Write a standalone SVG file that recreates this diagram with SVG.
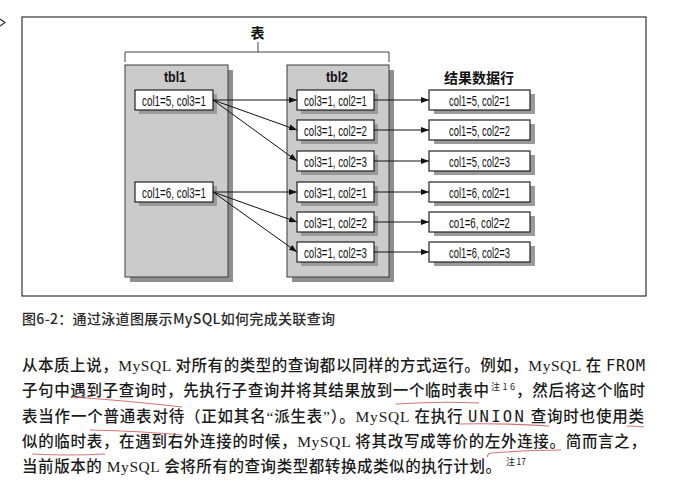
<svg xmlns="http://www.w3.org/2000/svg" width="688" height="484" viewBox="0 0 688 484">
<defs>
<style>
.frame{fill:#fff;stroke:#333;stroke-width:1.2}
.panel{fill:#cbcbcb;stroke:#3a3a3a;stroke-width:1}
.pshadow{fill:#8e8e8e}
.box{fill:#fff;stroke:#222;stroke-width:1.2}
.bshadow{fill:#9a9a9a}
.lbl{font-family:"Liberation Sans Narrow","Liberation Sans","Noto Sans CJK SC",sans-serif;font-size:14.5px;fill:#111;text-anchor:middle}
.ttl{font-family:"Liberation Sans Narrow","Liberation Sans","Noto Sans CJK SC",sans-serif;font-size:14px;font-weight:bold;fill:#111;text-anchor:middle}
.conn{stroke:#111;stroke-width:1;fill:none}
.body{font-family:"Liberation Serif","Noto Sans CJK SC",serif;font-size:15.5px;font-weight:500;fill:#1a1a1a}
.mono{font-family:"DejaVu Sans Mono","Liberation Mono",monospace;font-weight:normal}
.sup{font-family:"Noto Sans CJK SC","Liberation Serif",serif;font-size:9px;fill:#1a1a1a}
.cap{font-family:"Noto Sans CJK SC","Liberation Sans",sans-serif;font-size:14px;font-weight:500;fill:#2a2a2a}
.red{stroke:#d05a5a;stroke-width:1.1;fill:none;opacity:0.85}
</style>
<marker id="arr" markerUnits="userSpaceOnUse" markerWidth="8" markerHeight="6" refX="8" refY="3" orient="auto">
<path d="M0,0 L8,3 L0,6 z" fill="#111"/>
</marker>
</defs>

<polyline points="0,19 5,22.5 0,26" fill="none" stroke="#333" stroke-width="1.2"/>

<rect class="frame" x="22" y="17" width="624" height="279"/>

<g id="bracket">
<path d="M125,62 V52 H389 V62 M258,52 V42" fill="none" stroke="#444" stroke-width="1"/>
<text class="ttl" x="257.5" y="38" font-size="12.5">表</text>
</g>

<g id="tbl1">
<rect class="pshadow" x="130" y="70" width="103" height="212"/>
<rect class="panel" x="125" y="65" width="103" height="212"/>
<text class="ttl" x="175" y="82" textLength="22" lengthAdjust="spacingAndGlyphs">tbl1</text>
</g>
<g id="tbl2">
<rect class="pshadow" x="292" y="70" width="102" height="212"/>
<rect class="panel" x="287" y="65" width="102" height="212"/>
<text class="ttl" x="337" y="82" textLength="22" lengthAdjust="spacingAndGlyphs">tbl2</text>
</g>
<g id="results-title">
<text class="ttl" x="479" y="83" font-size="12.5">结果数据行</text>
</g>

<g id="t1r1"><rect class="bshadow" x="139" y="94" width="78" height="20"/><rect class="box" x="135" y="90" width="78" height="20"/><text class="lbl" x="174" y="105.5" textLength="64" lengthAdjust="spacingAndGlyphs">col1=5, col3=1</text></g>
<g id="t1r2"><rect class="bshadow" x="139" y="186" width="78" height="20"/><rect class="box" x="135" y="182" width="78" height="20"/><text class="lbl" x="174" y="197.5" textLength="64" lengthAdjust="spacingAndGlyphs">col1=6, col3=1</text></g>

<g id="t2r1"><rect class="bshadow" x="301" y="94" width="77" height="20"/><rect class="box" x="297" y="90" width="77" height="20"/><text class="lbl" x="335.5" y="105.5" textLength="63" lengthAdjust="spacingAndGlyphs">col3=1, col2=1</text></g>
<g id="t2r2"><rect class="bshadow" x="301" y="124" width="77" height="20"/><rect class="box" x="297" y="120" width="77" height="20"/><text class="lbl" x="335.5" y="135.5" textLength="63" lengthAdjust="spacingAndGlyphs">col3=1, col2=2</text></g>
<g id="t2r3"><rect class="bshadow" x="301" y="155" width="77" height="20"/><rect class="box" x="297" y="151" width="77" height="20"/><text class="lbl" x="335.5" y="166.5" textLength="63" lengthAdjust="spacingAndGlyphs">col3=1, col2=3</text></g>
<g id="t2r4"><rect class="bshadow" x="301" y="186" width="77" height="20"/><rect class="box" x="297" y="182" width="77" height="20"/><text class="lbl" x="335.5" y="197.5" textLength="63" lengthAdjust="spacingAndGlyphs">col3=1, col2=1</text></g>
<g id="t2r5"><rect class="bshadow" x="301" y="216" width="77" height="20"/><rect class="box" x="297" y="212" width="77" height="20"/><text class="lbl" x="335.5" y="227.5" textLength="63" lengthAdjust="spacingAndGlyphs">col3=1, col2=2</text></g>
<g id="t2r6"><rect class="bshadow" x="301" y="246" width="77" height="20"/><rect class="box" x="297" y="242" width="77" height="20"/><text class="lbl" x="335.5" y="257.5" textLength="63" lengthAdjust="spacingAndGlyphs">col3=1, col2=3</text></g>

<g id="res1"><rect class="bshadow" x="434" y="94" width="101" height="20"/><rect class="box" x="429" y="90" width="101" height="20"/><text class="lbl" x="479.5" y="105.5" textLength="61" lengthAdjust="spacingAndGlyphs">col1=5, col2=1</text></g>
<g id="res2"><rect class="bshadow" x="434" y="124" width="101" height="20"/><rect class="box" x="429" y="120" width="101" height="20"/><text class="lbl" x="479.5" y="135.5" textLength="61" lengthAdjust="spacingAndGlyphs">col1=5, col2=2</text></g>
<g id="res3"><rect class="bshadow" x="434" y="155" width="101" height="20"/><rect class="box" x="429" y="151" width="101" height="20"/><text class="lbl" x="479.5" y="166.5" textLength="61" lengthAdjust="spacingAndGlyphs">col1=5, col2=3</text></g>
<g id="res4"><rect class="bshadow" x="434" y="186" width="101" height="20"/><rect class="box" x="429" y="182" width="101" height="20"/><text class="lbl" x="479.5" y="197.5" textLength="61" lengthAdjust="spacingAndGlyphs">col1=6, col2=1</text></g>
<g id="res5"><rect class="bshadow" x="434" y="216" width="101" height="20"/><rect class="box" x="429" y="212" width="101" height="20"/><text class="lbl" x="479.5" y="227.5" textLength="61" lengthAdjust="spacingAndGlyphs">co1=6, col2=2</text></g>
<g id="res6"><rect class="bshadow" x="434" y="246" width="101" height="20"/><rect class="box" x="429" y="242" width="101" height="20"/><text class="lbl" x="479.5" y="257.5" textLength="61" lengthAdjust="spacingAndGlyphs">col1=6, col2=3</text></g>

<g id="connectors">
<line class="conn" x1="213" y1="100" x2="297" y2="100" marker-end="url(#arr)"/>
<line class="conn" x1="213" y1="100" x2="297" y2="130" marker-end="url(#arr)"/>
<line class="conn" x1="213" y1="100" x2="297" y2="161" marker-end="url(#arr)"/>
<line class="conn" x1="213" y1="192" x2="297" y2="192" marker-end="url(#arr)"/>
<line class="conn" x1="213" y1="192" x2="297" y2="222" marker-end="url(#arr)"/>
<line class="conn" x1="213" y1="192" x2="297" y2="252" marker-end="url(#arr)"/>
<line class="conn" x1="374" y1="100" x2="429" y2="100" marker-end="url(#arr)"/>
<line class="conn" x1="374" y1="130" x2="429" y2="130" marker-end="url(#arr)"/>
<line class="conn" x1="374" y1="161" x2="429" y2="161" marker-end="url(#arr)"/>
<line class="conn" x1="374" y1="192" x2="429" y2="192" marker-end="url(#arr)"/>
<line class="conn" x1="374" y1="222" x2="429" y2="222" marker-end="url(#arr)"/>
<line class="conn" x1="374" y1="252" x2="429" y2="252" marker-end="url(#arr)"/>
</g>

<text class="cap" x="22" y="324" textLength="313" lengthAdjust="spacing">图6-2：通过泳道图展示MySQL如何完成关联查询</text>

<text class="body" x="22" y="371" textLength="623" lengthAdjust="spacing">从本质上说，MySQL 对所有的类型的查询都以同样的方式运行。例如，MySQL 在 <tspan class="mono">FROM</tspan></text>
<text class="body" x="22" y="396" textLength="467" lengthAdjust="spacing">子句中遇到子查询时，先执行子查询并将其结果放到一个临时表中</text>
<text class="sup" x="491" y="390" textLength="24" lengthAdjust="spacing">注16</text>
<text class="body" x="516" y="396" textLength="129" lengthAdjust="spacing">，然后将这个临时</text>
<text class="body" x="22" y="422" textLength="622" lengthAdjust="spacing">表当作一个普通表对待（正如其名“派生表”）。MySQL 在执行 <tspan class="mono" letter-spacing="1.5">UNION</tspan> 查询时也使用类</text>
<text class="body" x="22" y="447" textLength="624" lengthAdjust="spacing">似的临时表，在遇到右外连接的时候，MySQL 将其改写成等价的左外连接。简而言之，</text>
<text class="body" x="22" y="472" textLength="479" lengthAdjust="spacing">当前版本的 MySQL 会将所有的查询类型都转换成类似的执行计划。</text>
<text class="sup" x="506" y="465" textLength="20" lengthAdjust="spacing">注 17</text>

<g id="red-marks">
<path class="red" d="M73,397 Q130,401 182,407"/>
<path class="red" d="M90,430 Q140,431 182,435"/>
<path class="red" d="M32,454 Q70,456 105,454"/>
<path class="red" d="M396,404 Q440,401 479,403"/>
<path class="red" d="M459,424 Q505,423 549,426"/>
<path class="red" d="M627,426 Q636,426 644,427"/>
<path class="red" d="M487,457 Q488,453 492,453 Q530,450 561,450"/>
</g>
</svg>
